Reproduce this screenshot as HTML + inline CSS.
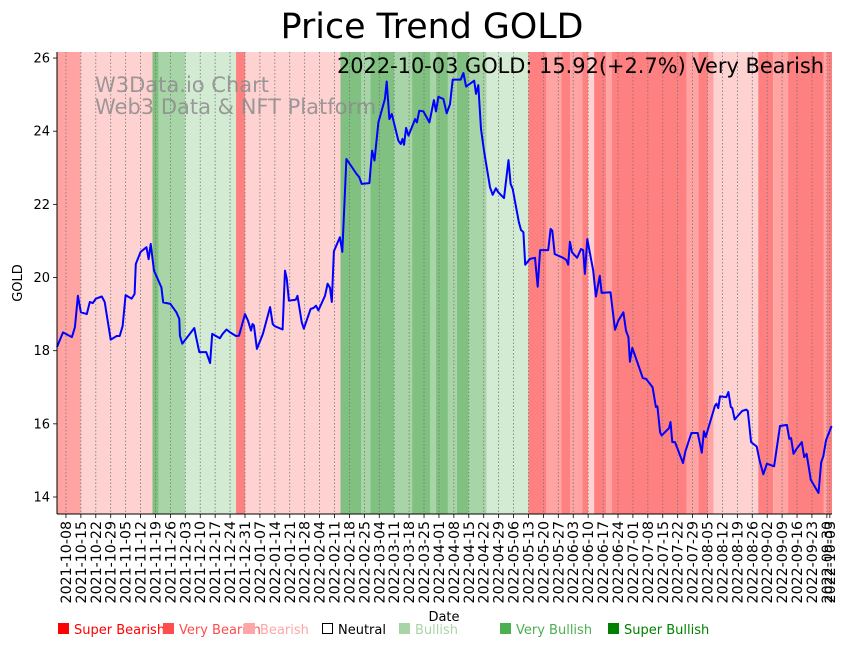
<!DOCTYPE html>
<html><head><meta charset="utf-8"><style>
body{margin:0;background:#fff;}
svg{display:block;font-family:"DejaVu Sans","Liberation Sans",sans-serif;}
</style></head><body>
<svg id="chart" width="851" height="646" viewBox="0 0 851 646" xmlns="http://www.w3.org/2000/svg">
<g id="bands"></g>
<g id="grid"></g>
<text x="95" y="92" font-size="21" fill="#8c8c8c" fill-opacity="0.85">W3Data.io Chart</text>
<text x="95" y="114" font-size="21" fill="#8c8c8c" fill-opacity="0.85">Web3 Data &amp; NFT Platform</text>
<g id="series"></g>
<text x="824" y="73" font-size="20.9" text-anchor="end" fill="#000">2022-10-03 GOLD: 15.92(+2.7%) Very Bearish</text>
<g id="axes"></g>
<text x="432" y="38" font-size="34.8" text-anchor="middle" fill="#000">Price Trend GOLD</text>
<text transform="translate(22,283) rotate(-90)" font-size="13" text-anchor="middle">GOLD</text>
<text x="444" y="621" font-size="13" text-anchor="middle">Date</text>
<g id="legend" font-size="13">
<g><rect x="58" y="623" width="11" height="11" fill="#ff0000"/><text x="74" y="634" fill="#ff0000">Super Bearish</text></g>
<g><rect x="163" y="623" width="11" height="11" fill="#ff4d4d"/><text x="179" y="634" fill="#ff4d4d">Very Bearish</text></g>
<g><rect x="244" y="623" width="11" height="11" fill="#ffa6a6"/><text x="260" y="634" fill="#ffa6a6">Bearish</text></g>
<g><rect x="322.5" y="623.5" width="10" height="10" fill="#fff" stroke="#000"/><text x="338" y="634" fill="#000">Neutral</text></g>
<g><rect x="399" y="623" width="11" height="11" fill="#a8d5a8"/><text x="415" y="634" fill="#a8d5a8">Bullish</text></g>
<g><rect x="500" y="623" width="11" height="11" fill="#4caf50"/><text x="516" y="634" fill="#4caf50">Very Bullish</text></g>
<g><rect x="608" y="623" width="11" height="11" fill="#008000"/><text x="624" y="634" fill="#008000">Super Bullish</text></g>
</g>
</svg>
<script>
const priceIdx = [0,2,5,6,7,8,10,11,12,13,15,16,18,20,21,22,23,25,26,26.4,28,30,30.7,31.4,32.5,35,35.6,38,40,41,41.2,42,46,46.6,47.7,50,51.3,52,54.6,55.5,56.8,58,60,61,63,64,65,65.5,66,67,69,71.4,72.3,73,75.6,76.4,77,77.7,80,80.6,82,82.7,85,86,86.8,87.6,89.8,90.7,91.5,92.1,92.8,94.8,95.6,97,100.4,101.3,102.1,104.7,105.6,106.4,107.7,109.9,110.5,111.4,112.2,114.4,115.2,115.8,116.3,117,117.8,120,120.6,121.4,122.8,124.8,126.3,127,127.8,129.5,130.6,131.7,132.6,135.3,136.2,137.1,139.8,140.4,141.2,142.1,143.1,145.1,146,147.1,147.9,149.8,151.3,152,152.7,154.8,155.5,156.3,156.9,158.5,160.2,161.1,161.9,164.6,165.4,166,166.8,169.6,170.7,171.3,171.9,172.6,174.3,175.6,176.3,176.9,177.7,179.7,180.6,181.9,182.5,185.5,187,188.1,189.8,190.7,191.5,192,192.8,196.3,197.4,199.6,200.7,201.2,202.1,202.6,205.1,205.6,206.2,207.1,209.8,210.6,212.6,214.7,216.1,216.8,217.4,220.5,221,221.6,222.2,224.3,225,225.8,226.3,227.1,229.6,231,231.5,232.6,234.5,235.4,236.7,237.9,240.3,242.3,244.6,245.4,246,246.8,247.9,249.6,250.4,251.2,252.6,255.2,256.1,256.8,257.7,259.6];
const priceVal = [18.1,18.5,18.37,18.64,19.5,19.05,19.0,19.33,19.3,19.42,19.48,19.33,18.3,18.4,18.4,18.67,19.52,19.42,19.55,20.37,20.7,20.83,20.5,20.92,20.19,19.73,19.32,19.28,19.05,18.87,18.41,18.19,18.62,18.37,17.96,17.96,17.66,18.46,18.34,18.46,18.58,18.5,18.4,18.41,19.0,18.82,18.55,18.73,18.69,18.05,18.46,19.19,18.73,18.67,18.58,20.19,19.96,19.37,19.39,19.5,18.78,18.6,19.14,19.17,19.23,19.1,19.5,19.83,19.72,19.33,20.72,21.1,20.7,23.24,22.83,22.74,22.56,22.58,23.47,23.2,24.24,24.88,25.36,24.33,24.47,23.74,23.65,23.79,23.63,24.09,23.88,24.33,24.24,24.56,24.54,24.24,24.85,24.54,24.94,24.88,24.49,24.74,25.41,25.41,25.59,25.22,25.38,25.02,25.26,24.06,23.47,22.47,22.26,22.44,22.33,22.17,23.21,22.56,22.42,21.51,21.3,21.24,20.35,20.51,20.54,19.75,20.75,20.75,21.33,21.28,20.64,20.54,20.48,20.35,20.98,20.69,20.54,20.78,20.75,20.1,21.05,20.19,19.48,20.05,19.58,19.6,18.57,18.82,19.05,18.55,18.37,17.7,18.08,17.25,17.23,17.0,16.46,16.48,15.77,15.68,15.88,16.05,15.5,15.5,14.93,15.25,15.75,15.75,15.21,15.8,15.64,16.5,16.55,16.43,16.75,16.73,16.87,16.46,16.43,16.12,16.35,16.39,16.35,15.5,15.38,15.02,14.62,14.91,14.84,15.94,15.97,15.59,15.61,15.18,15.32,15.5,15.09,15.18,14.47,14.11,14.95,15.11,15.55,15.94];
const bandStart = [0,8,32,34,43,60,63,95,102,105,113,119,125,127,131,134,138,144,158,164,169,172,176,178,180,184,186,211,215,218,220,235,240,245,257,258];
const bandClass = ["VB","B","SU","VU","U","SB","B","SU","VU","SU","VU","SU","VU","SU","VU","SU","VU","U","SB","VB","SB","VB","SB","B","SB","VB","SB","VB","SB","VB","B","SB","VB","SB","VB","SB"];
const yTicks = [14,16,18,20,22,24,26];
const tickLabels = ["2021-10-08","2021-10-15","2021-10-22","2021-10-29","2021-11-05","2021-11-12","2021-11-19","2021-11-26","2021-12-03","2021-12-10","2021-12-17","2021-12-24","2021-12-31","2022-01-07","2022-01-14","2022-01-21","2022-01-28","2022-02-04","2022-02-11","2022-02-18","2022-02-25","2022-03-04","2022-03-11","2022-03-18","2022-03-25","2022-04-01","2022-04-08","2022-04-15","2022-04-22","2022-04-29","2022-05-06","2022-05-13","2022-05-20","2022-05-27","2022-06-03","2022-06-10","2022-06-17","2022-06-24","2022-07-01","2022-07-08","2022-07-15","2022-07-22","2022-07-29","2022-08-05","2022-08-12","2022-08-19","2022-08-26","2022-09-02","2022-09-09","2022-09-16","2022-09-23","2022-09-30","2022-10-03"];
const tickIdx = [3,8,13,18,23,28,33,38,43,48,53,58,63,68,73,78,83,88,93,98,103,108,113,118,123,128,133,138,143,148,153,158,163,168,173,178,183,188,193,198,203,208,213,218,223,228,233,238,243,248,253,258,259];
const bandEnd = 260;

const NS="http://www.w3.org/2000/svg";
const L=57,R=832,T=52,B=514;
const pxPerIdx=2.984;
function xs(i){return L+i*pxPerIdx;}
function ys(v){return 497-(v-14)*36.58;}
const colors={SB:"#ff8080",VB:"#ffa3a3",B:"#ffd2d2",U:"#d3ead3",VU:"#a8d5a8",SU:"#80c080"};
function mk(tag,attrs,parent){const e=document.createElementNS(NS,tag);for(const k in attrs)e.setAttribute(k,attrs[k]);parent.appendChild(e);return e;}

const bands=document.getElementById('bands');
bandStart.forEach((s,k)=>{
  const e=k+1<bandStart.length?bandStart[k+1]:bandEnd;
  const x0=Math.max(L,xs(s)),x1=Math.min(R,xs(e));
  const r=mk('rect',{x:x0,y:T,width:x1-x0,height:B-T,fill:colors[bandClass[k]]},bands);
  
  
});

const grid=document.getElementById('grid');
const axes=document.getElementById('axes');
tickIdx.forEach((t,k)=>{
  const x=xs(t);
  const g=mk('line',{x1:x,x2:x,y1:T,y2:B,stroke:"#777",'stroke-width':0.8,'stroke-dasharray':'1.5,2'},grid);
  
  
  const tk=mk('line',{x1:x,x2:x,y1:B,y2:B+4,stroke:"#000",'stroke-width':0.8},axes);
  
  
  const tx=mk('text',{transform:`translate(${x+5},${B+7}) rotate(-90)`,'font-size':14.2,'text-anchor':'end'},axes);
  tx.textContent=tickLabels[k];
  
  
});
yTicks.forEach(v=>{
  const y=ys(v);
  const tk=mk('line',{x1:L-4,x2:L,y1:y,y2:y,stroke:"#000",'stroke-width':0.8},axes);
  
  
  const tx=mk('text',{x:L-7,y:y+4.5,'font-size':13,'text-anchor':'end'},axes);
  tx.textContent=String(v);
  
  
});
const sl=mk('line',{x1:L,x2:L,y1:T,y2:B,stroke:"#000",'stroke-width':1},axes);


const sb=mk('line',{x1:L,x2:R,y1:B,y2:B,stroke:"#000",'stroke-width':1},axes);



const series=document.getElementById('series');
const pts=priceIdx.map((t,k)=>xs(t).toFixed(1)+','+ys(priceVal[k]).toFixed(1)).join(' ');
const pl=mk('polyline',{points:pts,fill:'none',stroke:'#0000ff','stroke-width':2,'stroke-linejoin':'round'},series);


</script>
</body></html>
